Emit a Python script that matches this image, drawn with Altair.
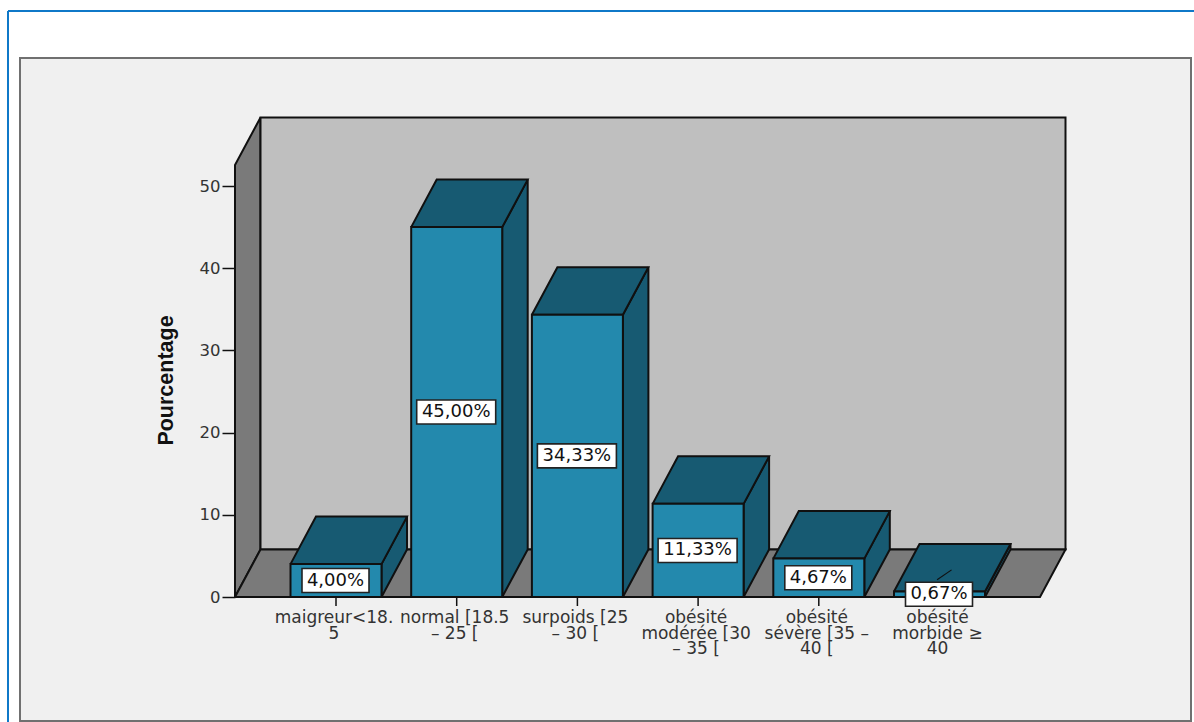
import altair as alt
import pandas as pd

# Chart content
labels = ["maigreur<18.\n5", "normal [18.5\n– 25 [", "surpoids [25\n– 30 [",
          "obésité\nmodérée [30\n– 35 [", "obésité\nsévère [35 –\n40 [", "obésité\nmorbide ≥\n40"]
values = [4.00, 45.00, 34.33, 11.33, 4.67, 0.67]
value_text = ["4,00%", "45,00%", "34,33%", "11,33%", "4,67%", "0,67%"]
y_ticks = [0, 10, 20, 30, 40, 50]

# Scale geometry: pixels per unit on each axis and the oblique depth of the box
PX_X, PX_Y = 120.7, 8.22
WIDTH, HEIGHT = 805, 432
X0, X1 = -101 / PX_X, 704 / PX_X
Y1 = HEIGHT / PX_Y
HALF = 45.5 / PX_X
DX, DY = 25.5 / PX_X, 47.5 / PX_Y

FACE, DARK = "#2389ad", "#175a72"
WALL, BACK, PANEL = "#7a7a7a", "#bfbfbf", "#f0f0f0"
INK = "#101010"
FONT = "DejaVu Sans"
LINE_W = 2

x_scale = alt.Scale(domain=[X0, X1], nice=False, zero=False)
y_scale = alt.Scale(domain=[0, Y1], nice=False, zero=False)
y_axis_def = alt.Axis(
    values=y_ticks, domain=False, grid=False, zindex=1, tickSize=13, tickWidth=1.5, tickColor=INK,
    labelFont=FONT, labelFontSize=16.5, labelColor="#333333", labelPadding=2,
    titleFont="Liberation Sans", titleFontSize=21.5, titleFontWeight="bold", titleColor="#111111",
    titleX=-58, titleY=215,
)


def X(field="x"):
    return alt.X(f"{field}:Q", scale=x_scale, axis=None)


def Y(field="y"):
    return alt.Y(f"{field}:Q", scale=y_scale, title="Pourcentage", axis=y_axis_def)


def polygons(shapes):
    """Long-form vertex table for a list of closed polygons."""
    rows = []
    for gid, pts in enumerate(shapes):
        for k, (px, py) in enumerate(list(pts) + [pts[0]]):
            rows.append({"gid": gid, "k": k, "x": px, "y": py})
    return pd.DataFrame(rows)


def poly_layer(shapes, fill):
    return alt.Chart(polygons(shapes)).mark_line(
        fill=fill, stroke=INK, strokeWidth=LINE_W, strokeJoin="miter"
    ).encode(x=X(), y=Y(), detail="gid:N", order="k:Q")


left_wall = [(X0, 0), (X0 + DX, DY), (X0 + DX, Y1 + DY), (X0, Y1)]
back_wall = [(X0 + DX, DY), (X1 + DX, DY), (X1 + DX, Y1 + DY), (X0 + DX, Y1 + DY)]
floor = [(X0, 0), (X1, 0), (X1 + DX, DY), (X0 + DX, DY)]

tops, sides = [], []
for i, v in enumerate(values):
    tops.append([(i - HALF, v), (i + HALF, v), (i + HALF + DX, v + DY), (i - HALF + DX, v + DY)])
    sides.append([(i + HALF, 0), (i + HALF + DX, DY), (i + HALF + DX, v + DY), (i + HALF, v)])

bars = pd.DataFrame({
    "x": [i - HALF for i in range(len(values))],
    "x2": [i + HALF for i in range(len(values))],
    "value": values,
})
front = alt.Chart(bars).mark_rect(fill=FACE, stroke=INK, strokeWidth=LINE_W).encode(
    x=X(), x2="x2:Q", y=Y("value"), y2=alt.datum(0),
)

# Value boxes sit at half the bar height
box_half_h = 12 / PX_Y
boxes = pd.DataFrame({
    "c": [i - 0.5 / PX_X for i in range(len(values))],
    "mid": [v / 2 for v in values],
    "text": value_text,
})
half_w = boxes["text"].str.len().map({5: 33.5, 6: 39.5}) / PX_X
boxes["x"] = boxes["c"] - half_w
boxes["x2"] = boxes["c"] + half_w
boxes["y"] = boxes["mid"] - box_half_h
boxes["y2"] = boxes["mid"] + box_half_h

box_rects = alt.Chart(boxes).mark_rect(fill="white", stroke="#222222", strokeWidth=1.6).encode(
    x=X(), x2="x2:Q", y=Y(), y2="y2:Q",
)
box_text = alt.Chart(boxes).mark_text(font=FONT, fontSize=18, color="#111111", baseline="middle").encode(
    x=X("c"), y=Y("mid"), text="text:N",
)

# Leader from the smallest value box up to its bar
leader = alt.Chart(pd.DataFrame({"x": [4.98, 5.10], "y": [2.1, 3.3], "k": [0, 1]})).mark_line(
    color=INK, strokeWidth=1.1
).encode(x=X(), y=Y(), order="k:Q")

# Category ticks and labels below the floor
cats = pd.DataFrame({"x": list(range(len(labels))), "label": labels})
x_ticks = alt.Chart(cats).mark_rule(color=INK, strokeWidth=1.5).encode(
    x=X(), y=alt.value(HEIGHT), y2=alt.value(HEIGHT + 9)
)
x_labels = alt.Chart(cats).mark_text(
    font=FONT, fontSize=17, color="#333333", lineBreak="\n", lineHeight=15.5,
    baseline="top", align="center", dx=-2
).encode(x=X(), y=alt.value(445), text="label:N")

# Surrounding panel and the thin blue page rule
dot = alt.Data(values=[{}])
panel = alt.Chart(dot).mark_rect(fill=PANEL, stroke="#707070", strokeWidth=2).encode(
    x=alt.value(-215), x2=alt.value(956), y=alt.value(-107), y2=alt.value(556)
)
rule_top = alt.Chart(dot).mark_rule(color="#0f78c8", strokeWidth=2).encode(
    x=alt.value(-227), x2=alt.value(959), y=alt.value(-154)
)
rule_left = alt.Chart(dot).mark_rule(color="#0f78c8", strokeWidth=2).encode(
    x=alt.value(-227), y=alt.value(-154), y2=alt.value(557)
)

chart = alt.layer(
    rule_top, rule_left, panel,
    poly_layer([left_wall], WALL),
    poly_layer([back_wall], BACK),
    poly_layer([floor], WALL),
    x_ticks,
    poly_layer(sides, DARK),
    poly_layer(tops, DARK),
    front,
    leader,
    box_rects,
    box_text,
    x_labels,
).properties(
    width=WIDTH, height=HEIGHT,
    padding={"left": 235, "top": 165, "right": 154, "bottom": 125},
    autosize=alt.AutoSizeParams(type="none"),
    background="white",
).configure_view(stroke=None)

chart.save("out.html", embed_options={"renderer": "svg", "actions": False})
